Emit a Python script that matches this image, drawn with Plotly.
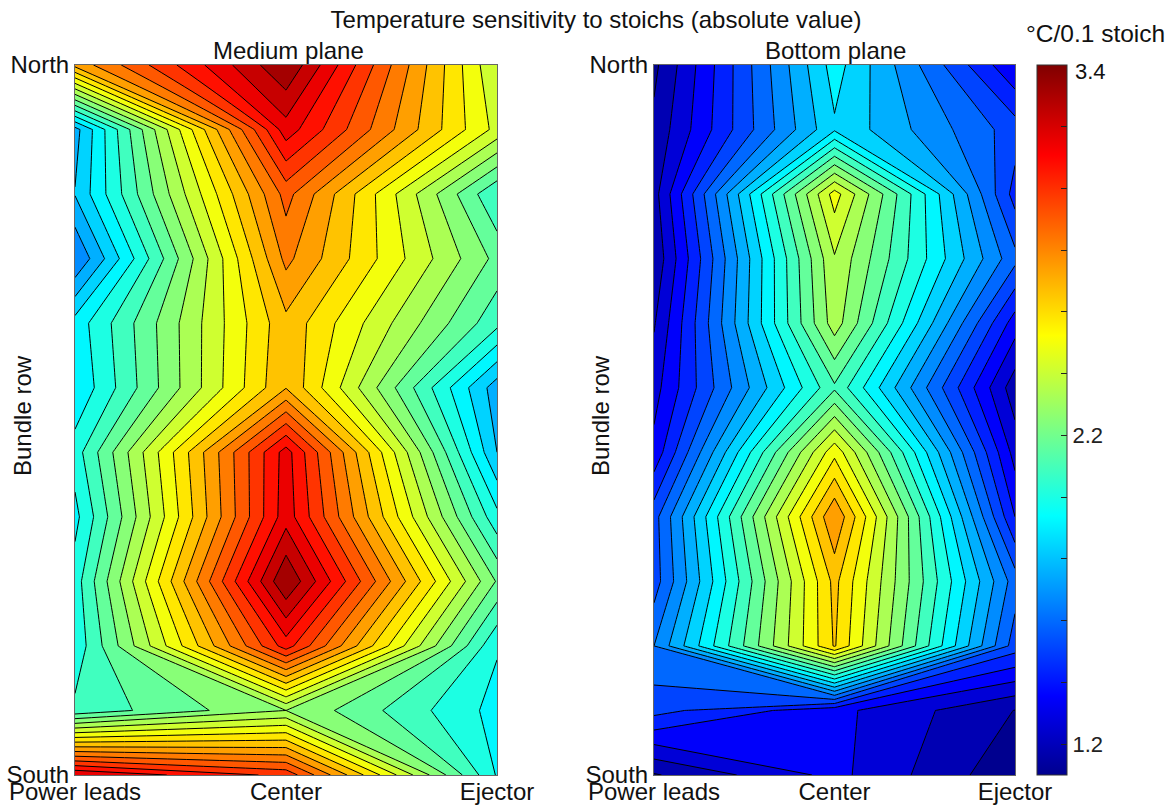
import plotly.graph_objects as go

columns = ["Power leads", "Center", "Ejector"]
row_index = [11, 10, 9, 8, 7, 6, 5, 4, 3, 2, 1, 0]

medium_left = [2.727, 1.788, 1.824, 1.66, 1.932, 1.908, 2.02, 1.955, 2.02, 2.004, 2.08, 3.18]
medium_center = [3.334, 3.144, 2.89, 2.802, 2.678, 2.696, 3.136, 3.146, 3.338, 3.06, 2.30, 2.996]
medium_right = [2.384, 2.434, 2.064, 2.196, 2.084, 1.776, 1.82, 2.004, 2.212, 1.988, 1.951, 1.972]

bottom_left = [1.16, 1.2, 1.228, 1.196, 1.252, 1.308, 1.364, 1.548, 1.54, 1.66, 1.528, 1.172]
bottom_center = [1.936, 1.888, 2.496, 2.372, 2.342, 2.126, 2.516, 2.775, 2.644, 2.628, 1.364, 1.364]
bottom_right = [1.348, 1.54, 1.468, 1.604, 1.38, 1.212, 1.308, 1.42, 1.62, 1.54, 1.178, 1.119]

cbar_ticks = [1.2, 1.4, 1.6, 1.8, 2.0, 2.2, 2.4, 2.6, 2.8, 3.0, 3.2]
cbar_text = ["1.2", "", "", "", "", "2.2", "", "", "", "", ""]

W, H = 1170, 808
FONT = "Liberation Sans"
JET = [
    [0.0, "rgb(0,0,143)"], [0.111, "rgb(0,0,255)"], [0.365, "rgb(0,255,255)"],
    [0.619, "rgb(255,255,0)"], [0.873, "rgb(255,0,0)"], [1.0, "rgb(128,0,0)"],
]
ZMIN, ZMAX, STEP = 1.1, 3.4, 0.08
BAND_SHIFT = 0.04


def panel(left, center, right, xa, ya):
    z = [list(t) for t in zip(left, center, right)]
    return go.Contour(
        x=columns, y=row_index, z=z, xaxis=xa, yaxis=ya,
        colorscale=JET, zmin=ZMIN + BAND_SHIFT, zmax=ZMAX + BAND_SHIFT, showscale=False,
        contours=dict(start=ZMIN, end=ZMAX + STEP, size=STEP, coloring="fill"),
        line=dict(color="black", width=1, smoothing=0), hoverinfo="skip",
    )


fig = go.Figure()
fig.add_trace(panel(medium_left, medium_center, medium_right, "x", "y"))
fig.add_trace(panel(bottom_left, bottom_center, bottom_right, "x2", "y2"))
fig.add_trace(go.Scatter(
    x=[None], y=[None], mode="markers", hoverinfo="skip", showlegend=False,
    marker=dict(
        color=[ZMIN], cmin=ZMIN, cmax=ZMAX, colorscale=JET, showscale=True,
        colorbar=dict(
            x=1037 / W, xanchor="left", xpad=0, y=(H - 775) / H, yanchor="bottom", ypad=0,
            len=710 / H, lenmode="fraction", thickness=30, thicknessmode="pixels",
            outlinewidth=1, outlinecolor="#333",
            tickmode="array", tickvals=cbar_ticks, ticktext=cbar_text,
            ticks="inside", ticklen=6, tickcolor="#222",
            tickfont=dict(family=FONT, size=22, color="#222"),
        ),
    ),
))


def xaxis(x0, x1, anchor):
    return dict(
        domain=[x0 / W, x1 / W], anchor=anchor, automargin=False, type="category",
        categoryorder="array", categoryarray=columns,
        range=[0, 2], ticks="", showgrid=False, zeroline=False, showline=True, mirror=True,
        linecolor="#666", linewidth=1, tickfont=dict(family=FONT, size=24, color="#111"),
        tickangle=0, ticklabelstandoff=-5,
    )


def yaxis(anchor):
    return dict(
        domain=[(H - 775) / H, (H - 65) / H], anchor=anchor, automargin=False, range=[0, 11],
        tickmode="array", tickvals=[0, 11],
        ticktext=["South", "North"], ticks="", showgrid=False, zeroline=False, showline=True,
        mirror=True, linecolor="#666", linewidth=1,
        tickfont=dict(family=FONT, size=24, color="#111"),
    )


def note(text, px, py, size=24, xanchor="center", angle=0):
    return dict(text=text, x=px / W, y=1 - py / H, xref="paper", yref="paper", showarrow=False,
                xanchor=xanchor, yanchor="middle", textangle=angle,
                font=dict(family=FONT, size=size, color="#111"))


fig.update_layout(
    width=W, height=H, margin=dict(l=0, r=0, t=0, b=0), paper_bgcolor="white", plot_bgcolor="white",
    autosize=False, showlegend=False,
    title=dict(text="Temperature sensitivity to stoichs (absolute value)", x=596 / W, y=1 - 20 / H,
               xanchor="center", yanchor="middle", font=dict(family=FONT, size=24, color="#111")),
    xaxis=xaxis(75, 497, "y"), yaxis=yaxis("x"),
    xaxis2=xaxis(654, 1015, "y2"), yaxis2=yaxis("x2"),
    annotations=[
        note("Medium plane", 288, 50),
        note("Bottom plane", 835, 50),
        note("°C/0.1 stoich", 1095, 33, size=24.5),
        note("3.4", 1073, 72, size=22, xanchor="left"),
        note("Bundle row", 22, 416, angle=-90),
        note("Bundle row", 600, 416, angle=-90),
    ],
)
fig.write_html("out.html", post_script="document.body.style.margin='0';",
               config={"displayModeBar": False})
